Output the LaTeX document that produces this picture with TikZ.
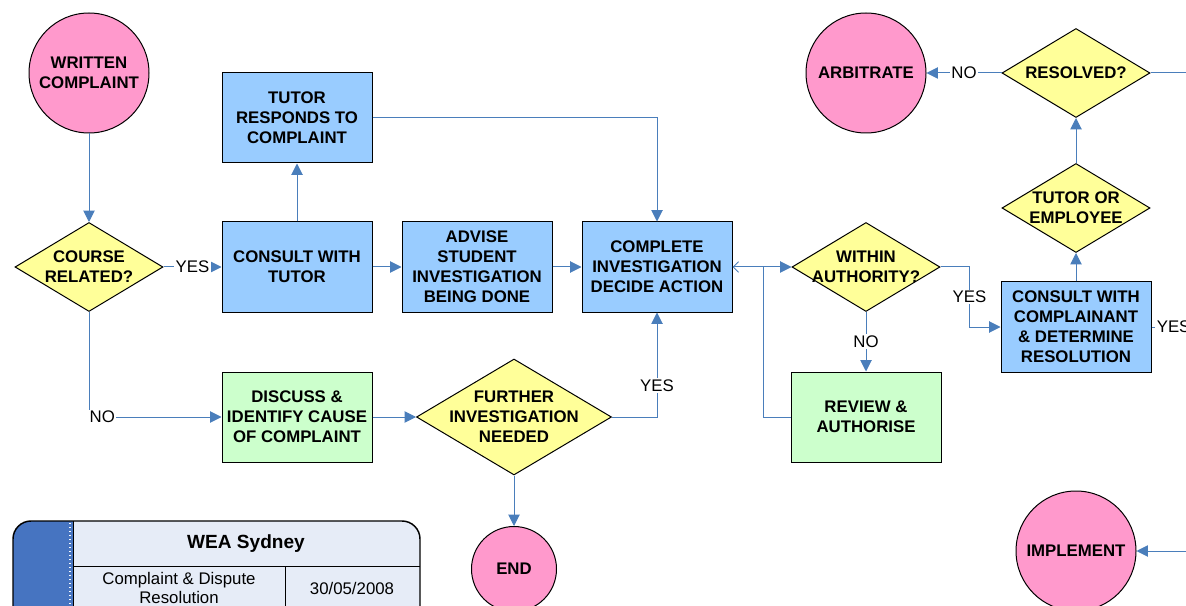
\documentclass[tikz,border=0pt]{standalone}
\usepackage{fontspec}
\setmainfont{Liberation Sans}
\usetikzlibrary{shapes.geometric,arrows.meta}

\definecolor{termpink}{RGB}{255,153,204}
\definecolor{procblue}{RGB}{153,204,255}
\definecolor{reviewgreen}{RGB}{204,255,204}
\definecolor{askyellow}{RGB}{255,255,153}
\definecolor{flowblue}{RGB}{74,126,187}
\definecolor{titleblue}{RGB}{70,116,193}
\definecolor{titlefill}{RGB}{230,236,247}

\tikzset{every picture/.style={line width=0.75pt}}
\tikzset{
  chartfont/.style={font=\fontsize{12.6}{15}\selectfont\bfseries},
  terminal/.style={circle, draw, fill=termpink, minimum size=90pt, inner sep=0pt, align=center, chartfont},
  process/.style={rectangle, draw, fill=procblue, minimum width=112.5pt, minimum height=67.5pt, inner sep=0pt, align=center, chartfont},
  approve/.style={process, fill=reviewgreen},
  decision/.style={diamond, draw, fill=askyellow, inner sep=0pt, minimum width=111pt, minimum height=66.75pt},
  asktext/.style={align=center, inner sep=0pt, chartfont},
  flow/.style={draw=flowblue, -{Triangle[length=8.5pt,width=8.5pt]}},
  backflow/.style={draw=flowblue, -{Straight Barb[length=4pt,width=8pt]}},
  answer/.style={fill=white, inner sep=1pt, font=\fontsize{12.6}{15}\selectfont},
  titletext/.style={inner sep=0pt, align=center, font=\fontsize{12.6}{14.25}\selectfont}
}

\begin{document}
\begin{tikzpicture}[x=0.75pt,y=0.75pt,yscale=-1,xscale=1]
\clip (0,0) rectangle (1186,606);

% Terminals
\node[terminal] (written) at (89,73) {WRITTEN\\COMPLAINT};
\node[terminal, minimum size=63.75pt] (finish) at (514,569) {END};
\node[terminal] (arbitrate) at (866,73) {ARBITRATE};
\node[terminal] (implement) at (1076,551) {IMPLEMENT};

% Process boxes
\node[process] (responds) at (297,118) {TUTOR\\RESPONDS TO\\COMPLAINT};
\node[process] (consult) at (297,267) {CONSULT WITH\\TUTOR};
\node[process] (advise) at (477,267) {ADVISE\\STUDENT\\INVESTIGATION\\BEING DONE};
\node[process] (complete) at (657,267) {COMPLETE\\INVESTIGATION\\DECIDE ACTION};
\node[approve] (discuss) at (297,417) {DISCUSS \&\\IDENTIFY CAUSE\\OF COMPLAINT};
\node[approve] (review) at (866,417) {REVIEW \&\\AUTHORISE};
\node[process] (complainant) at (1076,327) {CONSULT WITH\\COMPLAINANT\\\& DETERMINE\\RESOLUTION};

% Decisions
\node[decision, label={[asktext]center:COURSE\\RELATED?}] (course) at (89,267) {};
\node[decision, minimum width=146.25pt, minimum height=87pt, label={[asktext]center:FURTHER\\INVESTIGATION\\NEEDED}] (further) at (514,417) {};
\node[decision, label={[asktext]center:WITHIN\\AUTHORITY?}] (within) at (866,267) {};
\node[decision, label={[asktext]center:TUTOR OR\\EMPLOYEE}] (tutoremp) at (1076,208) {};
\node[decision, label={[asktext]center:RESOLVED?}] (resolved) at (1076,73) {};

% Loose ends
\coordinate (resolvedout) at (1200,73);
\coordinate (complainantout) at (1240,327);
\coordinate (implementin) at (1200,551);
\coordinate (merge) at (763,417);

% Connectors
\draw[flow] (written) -- (course);
\draw[flow] (course) -- node[answer]{YES} (consult);
\draw[flow] (course.south) |- node[answer, pos=0.55]{NO} (discuss.west);
\draw[flow] (consult) -- (responds);
\draw[flow] (responds.east) -| (complete.north);
\draw[flow] (consult) -- (advise);
\draw[flow] (advise) -- (complete);
\draw[flow] (discuss) -- (further);
\draw[flow] (further.east) -| node[answer, pos=0.65]{YES} (complete.south);
\draw[flow] (further) -- (finish);
\draw[flow] (complete) -- (within);
\draw[backflow] (review.west) -- (merge) |- (complete.east);
\draw[flow] (within) -- node[answer]{NO} (review);
\draw[flow] (within.east) -- ++(29,0) |- node[answer, pos=0.25]{YES} (complainant.west);
\draw[flow] (complainant) -- (tutoremp);
\draw[flow] (tutoremp) -- (resolved);
\draw[flow] (resolved) -- node[answer]{NO} (arbitrate);
\draw[draw=flowblue] (resolved.east) -- (resolvedout);
\draw[draw=flowblue] (complainant.east) -- node[answer, pos=0.25]{YES} (complainantout);
\draw[flow] (implementin) -- (implement.east);

% Title block
\begin{scope}
\clip[rounded corners=13.5pt] (13,521) rectangle (420,660);
\fill[titlefill] (13,521) rectangle (420,660);
\fill[titleblue] (13,521) rectangle (73,660);
\end{scope}
\draw[white, dotted, line width=1pt] (70,523) -- (70,606);
\draw (73,521) -- (73,660);
\draw (73,566) -- (420,566);
\draw (285,566) -- (285,660);
\draw[line width=1.1pt, rounded corners=13.5pt] (13,521) rectangle (420,660);
\node[titletext, font=\fontsize{14.3}{16}\selectfont\bfseries] (org) at (246,544) {WEA Sydney};
\node[titletext] (doctitle) at (179,588) {Complaint \& Dispute\\Resolution};
\node[titletext] (docdate) at (352,588) {30/05/2008};

\end{tikzpicture}
\end{document}
